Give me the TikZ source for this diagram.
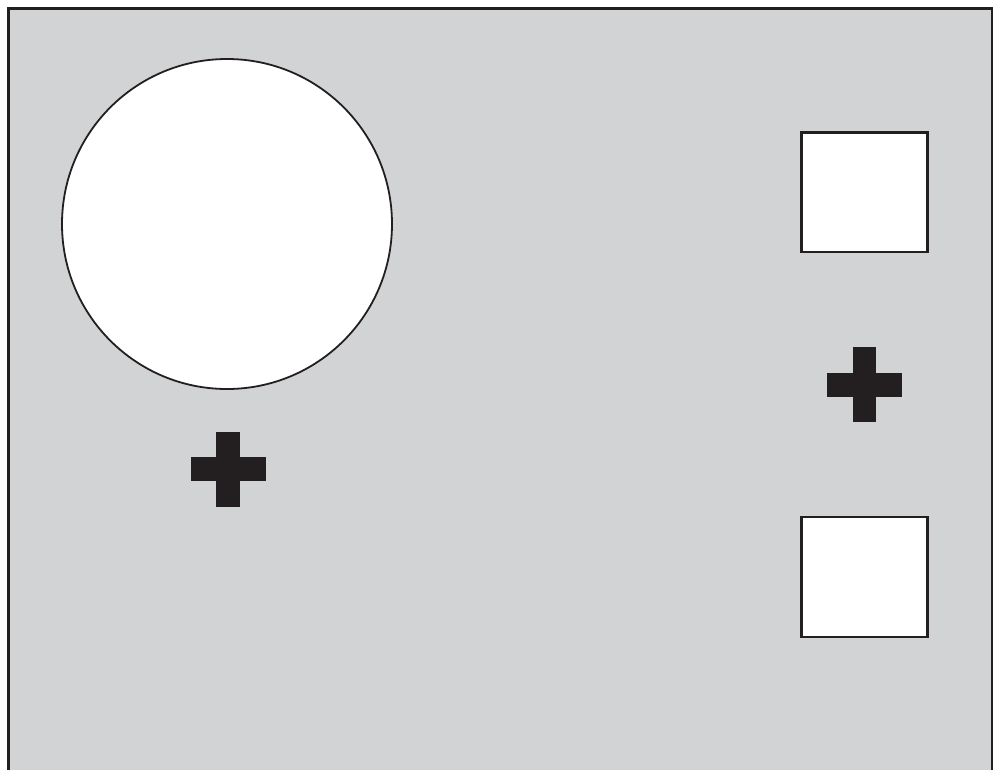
\documentclass[tikz,border=0pt]{standalone}
\definecolor{panelgray}{HTML}{D1D3D4}
\definecolor{ink}{HTML}{231F20}
\tikzset{
  hole/.style={fill=white, draw=ink, line width=1.6pt},
  crossbar/.style={fill=ink, draw=none}
}
\begin{document}
\begin{tikzpicture}[x=1pt,y=-1pt]
\useasboundingbox (0,0) rectangle (1000,769);
\clip (0,0) rectangle (1000,769);
% panel
\draw[fill=panelgray, draw=ink, line width=2.6pt] (8.7,8.7) rectangle (991.8,790);
% round hole
\draw[hole, line width=1.8pt] (227,224) circle (165);
% square holes
\draw[hole, line width=2.2pt] (801.5,132.5) rectangle (927.5,252);
\draw[hole, line width=2.2pt] (801.5,517) rectangle (927.5,637);
% crosses
\fill[crossbar] (190.7,457.3) rectangle (265.7,481);
\fill[crossbar] (216.3,431.7) rectangle (240,506.7);
\fill[crossbar] (827.3,373.3) rectangle (902,396.7);
\fill[crossbar] (853,347.3) rectangle (876.3,422.3);
\end{tikzpicture}
\end{document}
